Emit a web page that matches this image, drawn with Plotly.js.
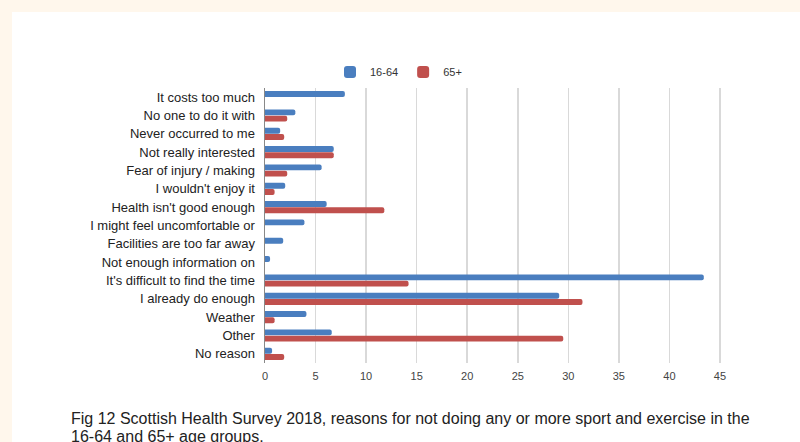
<!DOCTYPE html>
<html>
<head>
<meta charset="utf-8">
<script src="https://cdn.plot.ly/plotly-3.0.1.min.js"></script>
<style>
html,body{margin:0;padding:0;background:#fff;}
#chart{width:800px;height:442px;}
</style>
</head>
<body>
<div id="chart"></div>
<script>
const categories = [
  "It costs too much",
  "No one to do it with",
  "Never occurred to me",
  "Not really interested",
  "Fear of injury / making",
  "I wouldn't enjoy it",
  "Health isn't good enough",
  "I might feel uncomfortable or",
  "Facilities are too far away",
  "Not enough information on",
  "It's difficult to find the time",
  "I already do enough",
  "Weather",
  "Other",
  "No reason"
];
const age16to64 = [7.9, 3.0, 1.5, 6.8, 5.6, 2.0, 6.1, 3.9, 1.8, 0.5, 43.4, 29.1, 4.1, 6.6, 0.7];
const age65plus = [0, 2.2, 1.9, 6.8, 2.2, 0.95, 11.8, 0, 0, 0, 14.2, 31.4, 0.95, 29.5, 1.9];
const seriesNames = ["16-64", "65+"];
const xTicks = [0, 5, 10, 15, 20, 25, 30, 35, 40, 45];
const captionLines = [
  "Fig 12 Scottish Health Survey 2018, reasons for not doing any or more sport and exercise in the",
  "16-64 and 65+ age groups."
];

// pixel -> paper helpers (plot area: x 265..723, y 88..363)
const L = 265, R = 77, T = 88, B = 79, W = 800, H = 442;
const pw = W - L - R, ph = H - T - B;
const px = x => (x - L) / pw;
const py = y => (H - B - y) / ph;

const cream = "#fff7ec";
const traces = [
  {type: "bar", orientation: "h", name: seriesNames[0], y: categories, x: age16to64,
   marker: {color: "#4a7ebf", cornerradius: 3}},
  {type: "bar", orientation: "h", name: seriesNames[1], y: categories, x: age65plus,
   marker: {color: "#c0504d", cornerradius: 3}}
];

const layout = {
  width: W, height: H,
  margin: {l: L, r: R, t: T, b: B, pad: 0},
  paper_bgcolor: "#ffffff",
  plot_bgcolor: "#ffffff",
  font: {family: "Liberation Sans, Arial, sans-serif", size: 11, color: "#222"},
  barmode: "group",
  bargap: 0.32,
  bargroupgap: 0.05,
  showlegend: true,
  legend: {orientation: "h", x: px(330), y: py(72), xanchor: "left", yanchor: "middle",
           font: {size: 11, color: "#333"}, itemwidth: 30, bgcolor: "rgba(0,0,0,0)"},
  xaxis: {range: [0, 45.3], tickvals: xTicks, ticktext: xTicks.map(String),
          showgrid: true, gridcolor: "#d9d9d9", gridwidth: 1.5, zeroline: false,
          showline: false, ticks: "", ticklabelstandoff: 5,
          tickfont: {size: 11, color: "#444"}, fixedrange: true},
  yaxis: {type: "category", autorange: "reversed", showgrid: false, zeroline: false,
          showline: true, linecolor: "#888", linewidth: 1.5, ticks: "", ticklabelstandoff: 6,
          tickfont: {size: 13, color: "#222"}},
  shapes: [
    {type: "rect", xref: "paper", yref: "paper", layer: "below",
     x0: px(0), x1: px(800), y0: py(12), y1: py(0), fillcolor: cream, line: {width: 0}},
    {type: "rect", xref: "paper", yref: "paper", layer: "below",
     x0: px(0), x1: px(12), y0: py(442), y1: py(0), fillcolor: cream, line: {width: 0}}
  ],
  annotations: captionLines.map((t, i) => ({
    xref: "paper", yref: "paper", x: px(69), y: py(418 + i * 18), xanchor: "left", yanchor: "middle",
    align: "left", showarrow: false, text: t,
    font: {family: "Liberation Sans, Arial, sans-serif", size: 16, color: "#222"}
  }))
};

Plotly.newPlot("chart", traces, layout, {displayModeBar: false, staticPlot: true});
</script>
</body>
</html>
